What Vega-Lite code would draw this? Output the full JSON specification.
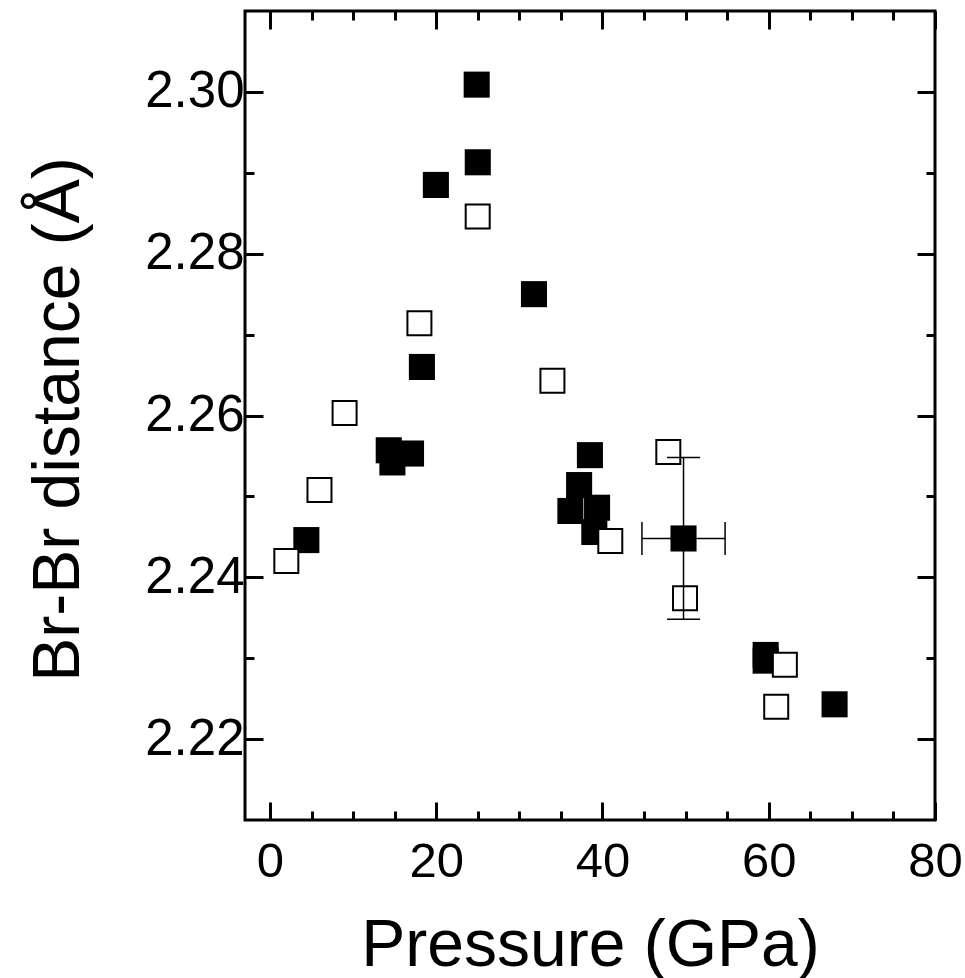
{
  "$schema": "https://vega.github.io/schema/vega-lite/v6.json",
  "autosize": {"type": "none"},
  "width": 690,
  "height": 809,
  "padding": {"left": 245, "top": 11, "right": 30, "bottom": 158},
  "background": "white",
  "config": {
    "view": {"stroke": "black", "strokeWidth": 3},
    "font": "Liberation Sans",
    "axis": {
      "domain": false,
      "grid": false,
      "tickColor": "black",
      "tickWidth": 3,
      "labelColor": "black",
      "titleColor": "black",
      "labelFont": "Liberation Sans",
      "titleFont": "Liberation Sans",
      "labelFontSize": 49,
      "titleFontSize": 66,
      "labelFontWeight": "normal",
      "titleFontWeight": "normal",
      "labelFlush": false,
      "labelOverlap": false
    }
  },
  "datasets": {
    "filled": [
      {"p": 24.87, "d": 2.3009},
      {"p": 25.0, "d": 2.2913},
      {"p": 19.96, "d": 2.2885},
      {"p": 31.76, "d": 2.275},
      {"p": 18.28, "d": 2.266},
      {"p": 14.29, "d": 2.2557},
      {"p": 16.97, "d": 2.2553},
      {"p": 14.73, "d": 2.2542},
      {"p": 4.38, "d": 2.2446},
      {"p": 38.49, "d": 2.2551},
      {"p": 37.19, "d": 2.2514},
      {"p": 36.14, "d": 2.2482},
      {"p": 39.35, "d": 2.2486},
      {"p": 39.02, "d": 2.2456},
      {"p": 49.75, "d": 2.2448},
      {"p": 59.63, "d": 2.2304},
      {"p": 59.63, "d": 2.2297},
      {"p": 67.92, "d": 2.2243}
    ],
    "hollow": [
      {"p": 24.99, "d": 2.2846},
      {"p": 17.98, "d": 2.2714},
      {"p": 33.98, "d": 2.2643},
      {"p": 8.98, "d": 2.2603},
      {"p": 5.96, "d": 2.2508},
      {"p": 1.97, "d": 2.242},
      {"p": 47.92, "d": 2.2555},
      {"p": 40.94, "d": 2.2445},
      {"p": 49.93, "d": 2.2374},
      {"p": 61.94, "d": 2.2292},
      {"p": 60.9, "d": 2.224}
    ],
    "err": [
      {"p": 49.75, "d": 2.2448, "plo": 44.75, "phi": 54.75, "dlo": 2.2348, "dhi": 2.2548}
    ]
  },
  "resolve": {"axis": {"x": "independent", "y": "independent"}},
  "layer": [
    {
      "data": {"name": "filled"},
      "mark": {"type": "square", "filled": true, "color": "black", "size": 680, "opacity": 1},
      "encoding": {
        "x": {"field": "p", "type": "quantitative", "scale": {"domain": [-3, 80], "nice": false, "zero": false},
          "axis": {"orient": "bottom", "values": [0, 20, 40, 60, 80], "tickSize": -18, "labelPadding": 35, "title": "Pressure (GPa)", "titleBaseline": "alphabetic", "titleY": 145}},
        "y": {"field": "d", "type": "quantitative", "scale": {"domain": [2.21, 2.31], "nice": false, "zero": false},
          "axis": {"orient": "left", "values": [2.22, 2.24, 2.26, 2.28, 2.30], "format": ".2f", "tickSize": -18, "labelPadding": 19, "labelFontSize": 51, "title": "Br-Br distance (Å)", "titleBaseline": "alphabetic", "titleX": -167, "titleY": 408}}
      }
    },
    {
      "data": {"name": "hollow"},
      "mark": {"type": "square", "filled": false, "fill": "white", "stroke": "black", "strokeWidth": 2, "size": 576, "opacity": 1},
      "encoding": {
        "x": {"field": "p", "type": "quantitative", "scale": {"domain": [-3, 80], "nice": false, "zero": false},
          "axis": {"orient": "top", "values": [0, 20, 40, 60, 80], "tickSize": -18, "labels": false, "title": null}},
        "y": {"field": "d", "type": "quantitative", "scale": {"domain": [2.21, 2.31], "nice": false, "zero": false},
          "axis": {"orient": "right", "values": [2.22, 2.24, 2.26, 2.28, 2.30], "tickSize": -18, "labels": false, "title": null}}
      }
    },
    {
      "data": {"name": "err"},
      "mark": {"type": "rule", "color": "black", "strokeWidth": 1.5},
      "encoding": {
        "x": {"field": "plo", "type": "quantitative", "scale": {"domain": [-3, 80], "nice": false, "zero": false},
          "axis": {"orient": "bottom", "values": [5, 10, 15, 25, 30, 35, 45, 50, 55, 65, 70, 75], "tickSize": -9, "labels": false, "title": null}},
        "x2": {"field": "phi"},
        "y": {"field": "d", "type": "quantitative", "scale": {"domain": [2.21, 2.31], "nice": false, "zero": false},
          "axis": {"orient": "left", "values": [2.23, 2.25, 2.27, 2.29], "tickSize": -9, "labels": false, "title": null}}
      }
    },
    {
      "data": {"name": "err"},
      "mark": {"type": "rule", "color": "black", "strokeWidth": 1.5},
      "encoding": {
        "x": {"field": "p", "type": "quantitative", "scale": {"domain": [-3, 80], "nice": false, "zero": false},
          "axis": {"orient": "top", "values": [5, 10, 15, 25, 30, 35, 45, 50, 55, 65, 70, 75], "tickSize": -9, "labels": false, "title": null}},
        "y": {"field": "dlo", "type": "quantitative", "scale": {"domain": [2.21, 2.31], "nice": false, "zero": false},
          "axis": {"orient": "right", "values": [2.23, 2.25, 2.27, 2.29], "tickSize": -9, "labels": false, "title": null}},
        "y2": {"field": "dhi"}
      }
    },
    {
      "data": {"name": "err"},
      "mark": {"type": "tick", "orient": "vertical", "color": "black", "size": 33, "thickness": 1.5, "opacity": 1},
      "encoding": {
        "x": {"field": "plo", "type": "quantitative", "axis": null},
        "y": {"field": "d", "type": "quantitative", "axis": null}
      }
    },
    {
      "data": {"name": "err"},
      "mark": {"type": "tick", "orient": "vertical", "color": "black", "size": 33, "thickness": 1.5, "opacity": 1},
      "encoding": {
        "x": {"field": "phi", "type": "quantitative", "axis": null},
        "y": {"field": "d", "type": "quantitative", "axis": null}
      }
    },
    {
      "data": {"name": "err"},
      "mark": {"type": "tick", "orient": "horizontal", "color": "black", "size": 33, "thickness": 1.5, "opacity": 1},
      "encoding": {
        "x": {"field": "p", "type": "quantitative", "axis": null},
        "y": {"field": "dlo", "type": "quantitative", "axis": null}
      }
    },
    {
      "data": {"name": "err"},
      "mark": {"type": "tick", "orient": "horizontal", "color": "black", "size": 33, "thickness": 1.5, "opacity": 1},
      "encoding": {
        "x": {"field": "p", "type": "quantitative", "axis": null},
        "y": {"field": "dhi", "type": "quantitative", "axis": null}
      }
    }
  ]
}
